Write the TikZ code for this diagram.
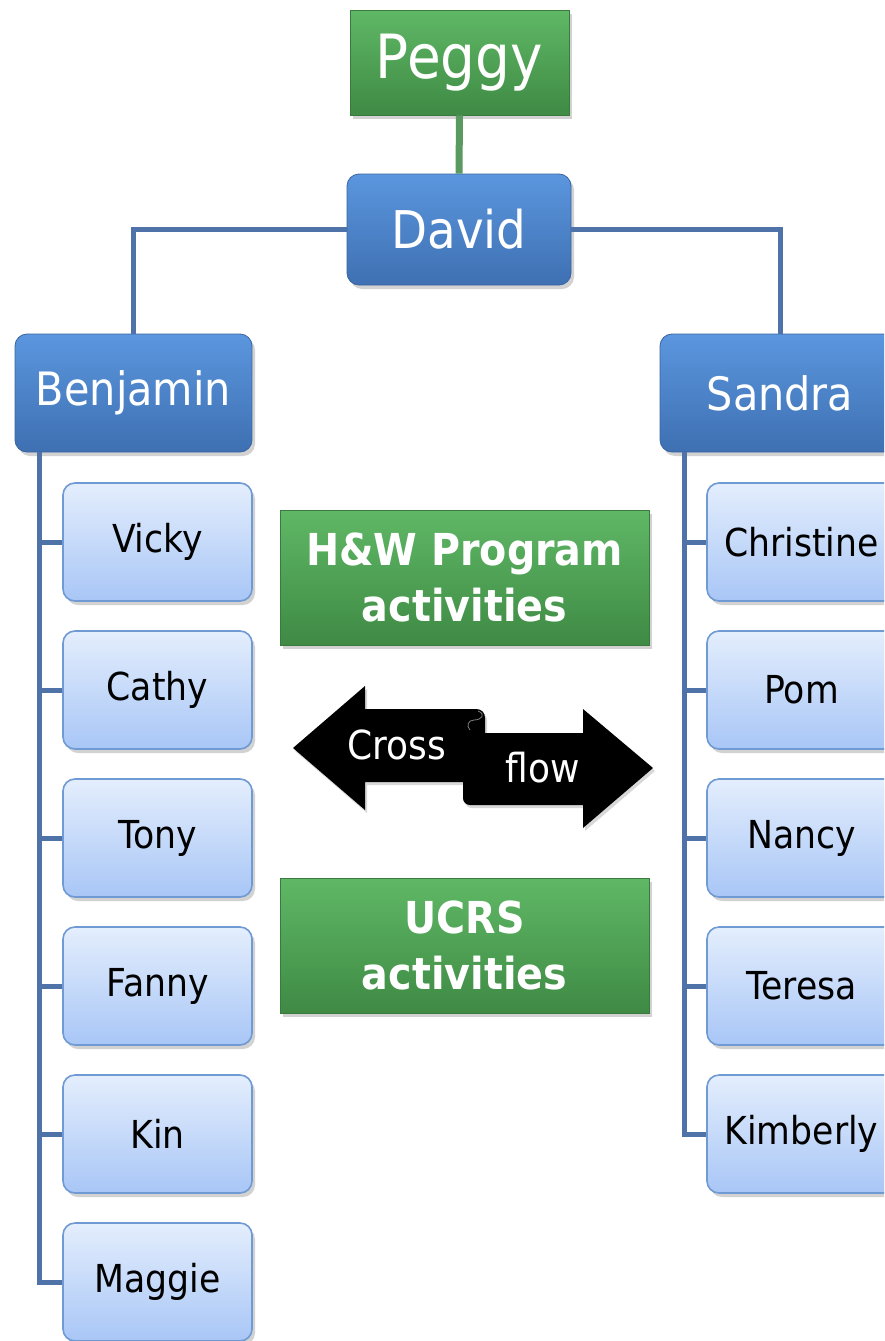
\documentclass[tikz,border=0pt]{standalone}
\usepackage{fontspec}
\setmainfont{DejaVu Sans}[FakeStretch=0.9]
\usetikzlibrary{shadows,calc}
\definecolor{gtop}{HTML}{5FB865}
\definecolor{gbot}{HTML}{3F8A45}
\definecolor{gedge}{HTML}{3A7A3F}
\definecolor{btop}{HTML}{5B96DE}
\definecolor{bbot}{HTML}{3E70B2}
\definecolor{bedge}{HTML}{3A64A0}
\definecolor{ctop}{HTML}{E4EEFD}
\definecolor{cbot}{HTML}{A8C6F6}
\definecolor{cedge}{HTML}{6F9AD3}
\definecolor{link}{HTML}{4F72A8}
\definecolor{glink}{HTML}{5A9A60}
\tikzset{
  shad/.style={drop shadow={opacity=0.35,shadow xshift=3pt,shadow yshift=-4pt}},
  greenbox/.style={shad,draw=gedge,line width=0.8pt,top color=gtop,bottom color=gbot,text=white,inner sep=0pt,align=center},
  bluebox/.style={shad,draw=bedge,line width=0.8pt,rounded corners=12pt,top color=btop,bottom color=bbot,text=white,inner sep=0pt,align=center},
  childbox/.style={shad,draw=cedge,line width=1.6pt,rounded corners=12pt,top color=ctop,bottom color=cbot,text=black,inner sep=0pt,
    minimum width=189pt,minimum height=118pt,font=\fontsize{38.5}{44}\selectfont},
  conn/.style={draw=link,line width=5pt},
  gconn/.style={draw=glink,line width=7pt},
  arrowtext/.style={text=white,font=\fontsize{40}{46}\selectfont,inner sep=0pt}
}
\begin{document}
\begin{tikzpicture}[x=1pt,y=-1pt]
\useasboundingbox (0,0) rectangle (884,1341);
\clip (0,0) rectangle (884,1341);
\fill[white] (0,0) rectangle (884,1341);

\node[greenbox,minimum width=219pt,minimum height=105pt,font=\fontsize{61}{70}\selectfont] (peggy) at (459.5,62.5) {Peggy};
\node[bluebox,minimum width=224pt,minimum height=111pt,font=\fontsize{52}{60}\selectfont] (david) at (459,229.5) {David};
\node[bluebox,minimum width=237pt,minimum height=118pt,font=\fontsize{46}{54}\selectfont] (benjamin) at (133.5,393) {Benjamin};
\node[bluebox,minimum width=240pt,minimum height=118pt,font=\fontsize{46}{54}\selectfont] (sandra) at (780,393) {Sandra};

\node[childbox] (vicky) at (157.5,542) {Vicky};
\node[childbox] (cathy) at (157.5,690) {Cathy};
\node[childbox] (tony) at (157.5,838) {Tony};
\node[childbox] (fanny) at (157.5,986) {Fanny};
\node[childbox] (kin) at (157.5,1134) {Kin};
\node[childbox] (maggie) at (157.5,1282) {Maggie};

\node[childbox] (christine) at (801.5,542) {Christine};
\node[childbox] (pom) at (801.5,690) {Pom};
\node[childbox] (nancy) at (801.5,838) {Nancy};
\node[childbox] (teresa) at (801.5,986) {Teresa};
\node[childbox] (kimberly) at (801.5,1134) {Kimberly};

\node[greenbox,minimum width=369pt,minimum height=135pt,font=\bfseries\fontsize{44}{56}\selectfont] (hw) at (464.5,577.5) {H\&W Program\\activities};
\node[greenbox,minimum width=369pt,minimum height=135pt,font=\bfseries\fontsize{44}{56}\selectfont] (ucrs) at (464.5,945.5) {UCRS\\activities};

% connectors
\draw[gconn] (peggy.south) -- (david.north);
\draw[conn] (david.west) -| (benjamin.north);
\draw[conn] (david.east) -| (sandra.north);

\coordinate (bl) at ($(benjamin.south west)+(25,0)$);
\coordinate (sl) at ($(sandra.south west)+(25,0)$);
\draw[conn,line join=miter] (bl) |- (maggie.west);
\foreach \c in {vicky,cathy,tony,fanny,kin}{
  \draw[conn] (\c.west -| bl) -- (\c.west);
}
\draw[conn,line join=miter] (sl) |- (kimberly.west);
\foreach \c in {christine,pom,nancy,teresa}{
  \draw[conn] (\c.west -| sl) -- (\c.west);
}

% cross flow arrow
\fill[black,drop shadow={opacity=0.3,shadow xshift=2pt,shadow yshift=-3pt}]
  (293,748) -- (365,686) -- (365,709) -- (476,709)
  .. controls (482,709) and (485,713) .. (485,718) -- (485,733)
  -- (583,733) -- (583,709) -- (653,768) -- (583,828) -- (583,805)
  -- (470,805) .. controls (466,805) and (463,802) .. (463,798) -- (463,782)
  -- (365,782) -- (365,810) -- cycle;
\draw[gray,line width=0.8pt] (478,711) .. controls (486,714) and (482,720) .. (474,720)
  .. controls (468,720) and (466,726) .. (470,730);
\node[arrowtext] (cross) at (397,745) {Cross};
\node[arrowtext] (flow) at (543,768) {flow};
\end{tikzpicture}
\end{document}
